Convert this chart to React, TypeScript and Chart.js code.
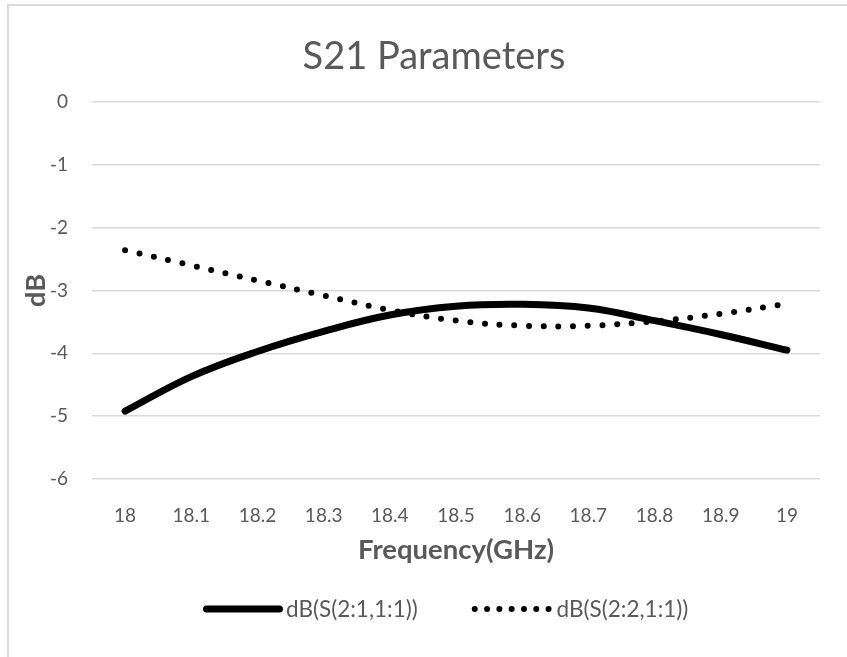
import React, { useEffect, useRef } from 'react';
import { Chart, registerables } from 'chart.js';

Chart.register(...registerables);

// Frequency points (GHz) along the category axis
const frequencies = ['18', '18.1', '18.2', '18.3', '18.4', '18.5', '18.6', '18.7', '18.8', '18.9', '19'];

// Transmission magnitude, dB(S(2:1,1:1))
const s21Db = [-4.92, -4.37, -3.97, -3.65, -3.39, -3.25, -3.22, -3.28, -3.48, -3.7, -3.95];

// dB(S(2:2,1:1))
const s22Db = [-2.36, -2.6, -2.84, -3.08, -3.31, -3.48, -3.56, -3.56, -3.49, -3.37, -3.21];

const seriesNames = ['dB(S(2:1,1:1))', 'dB(S(2:2,1:1))'];
const chartTitle = 'S21 Parameters';
const xAxisTitle = 'Frequency(GHz)';
const yAxisTitle = 'dB';
const yMin = -6;
const yMax = 0;
const yStep = 1;

const TEXT = '#595959';
const GRID = '#d9d9d9';
const FONT = 'Lato, "Noto Sans", sans-serif';

const CANVAS_W = 838;
const CANVAS_H = 651;

// Large centred heading above the plot
const headingPlugin = {
  id: 'heading',
  afterDraw(chart: any) {
    const { ctx } = chart;
    ctx.save();
    ctx.font = `38px ${FONT}`;
    ctx.fillStyle = TEXT;
    ctx.textAlign = 'center';
    ctx.textBaseline = 'middle';
    ctx.fillText(chartTitle, chart.width / 2 + 6, 51);
    ctx.restore();
  },
};

// Legend row under the axis title: a line sample followed by the series name
const legendRowPlugin = {
  id: 'legendRow',
  afterDraw(chart: any) {
    const { ctx } = chart;
    const y = 603;
    let x = 194;
    ctx.save();
    ctx.font = `22.5px ${FONT}`;
    ctx.textBaseline = 'middle';
    ctx.textAlign = 'left';
    chart.data.datasets.forEach((ds: any) => {
      const dotted = Array.isArray(ds.borderDash) && ds.borderDash.length > 0;
      ctx.strokeStyle = ds.borderColor;
      ctx.lineCap = 'round';
      if (dotted) {
        const w = 6;
        const gap = 12.3;
        ctx.lineWidth = w;
        ctx.setLineDash([0, gap]);
        ctx.beginPath();
        ctx.moveTo(x, y);
        ctx.lineTo(x + gap * 6 + 0.5, y);
        ctx.stroke();
        x += gap * 6 + 8;
      } else {
        const w = ds.borderWidth;
        ctx.lineWidth = w;
        ctx.setLineDash([]);
        ctx.beginPath();
        ctx.moveTo(x + w / 2, y);
        ctx.lineTo(x + 80 - w / 2, y);
        ctx.stroke();
        x += 83;
      }
      ctx.fillStyle = TEXT;
      ctx.fillText(ds.label, x, y + 1);
      x += ctx.measureText(ds.label).width + 57;
    });
    ctx.restore();
  },
};

export default function App() {
  const canvasRef = useRef<HTMLCanvasElement | null>(null);

  useEffect(() => {
    const canvas = canvasRef.current;
    if (!canvas) return;
    const chart = new Chart(canvas, {
      type: 'line',
      data: {
        labels: frequencies,
        datasets: [
          {
            label: seriesNames[0],
            data: s21Db,
            borderColor: '#000000',
            borderWidth: 7,
            borderCapStyle: 'round',
            borderJoinStyle: 'round',
            pointRadius: 0,
            tension: 0.4,
            fill: false,
          },
          {
            label: seriesNames[1],
            data: s22Db,
            borderColor: '#000000',
            borderWidth: 6,
            borderDash: [0, 14.7],
            borderCapStyle: 'round',
            pointRadius: 0,
            tension: 0.4,
            fill: false,
          },
        ],
      },
      options: {
        responsive: false,
        animation: false,
        layout: { padding: { top: 96, left: 0, right: 27, bottom: 90 } },
        plugins: {
          legend: { display: false },
          title: { display: false },
          tooltip: { enabled: false },
        },
        scales: {
          x: {
            type: 'category',
            offset: true,
            grid: { display: false },
            border: { display: false },
            ticks: {
              color: TEXT,
              font: { family: FONT, size: 19 },
              padding: 17.5,
              maxRotation: 0,
              autoSkip: false,
            },
            title: {
              display: true,
              text: xAxisTitle,
              color: TEXT,
              font: { family: FONT, size: 27.5, weight: 'bold' },
              padding: { top: 0, bottom: 0 },
            },
            afterFit(scale: any) {
              scale.height = 88;
            },
          },
          y: {
            min: yMin,
            max: yMax,
            grid: { color: GRID, lineWidth: 1.5, drawTicks: false },
            border: { display: false },
            ticks: {
              stepSize: yStep,
              color: TEXT,
              font: { family: FONT, size: 19 },
              padding: 24,
            },
            title: {
              display: true,
              text: yAxisTitle,
              color: TEXT,
              font: { family: FONT, size: 27, weight: 'bold' },
              padding: { top: 11, bottom: 0 },
            },
            afterFit(scale: any) {
              scale.width = 83;
            },
          },
        },
      },
      plugins: [headingPlugin, legendRowPlugin],
    } as any);
    return () => chart.destroy();
  }, []);

  return (
    <div
      style={{
        position: 'absolute',
        left: 7,
        top: 4,
        width: 840,
        height: 653,
        boxSizing: 'border-box',
        borderTop: `2px solid ${GRID}`,
        borderLeft: `2px solid ${GRID}`,
        background: '#ffffff',
      }}
    >
      <canvas ref={canvasRef} width={CANVAS_W} height={CANVAS_H} style={{ display: 'block' }} />
    </div>
  );
}
